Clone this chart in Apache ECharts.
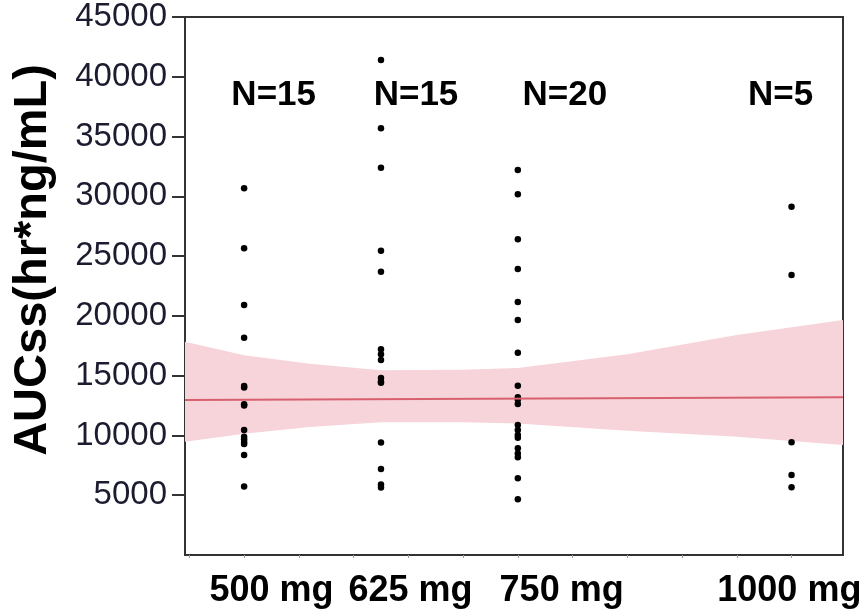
<!DOCTYPE html>
<html>
<head>
<meta charset="utf-8">
<script src="https://cdn.jsdelivr.net/npm/echarts@6/dist/echarts.min.js"></script>
<style>
  html, body { margin: 0; padding: 0; background: #fff; }
  #chart { width: 866px; height: 612px; }
</style>
</head>
<body>
<div id="chart"></div>
<script>
// dose groups (mg) and the AUCss values
var doses = [500, 625, 750, 1000];
var auc500 = [30670, 25650, 20910, 18180, 14140, 12600, 10450, 9900, 9680, 9450, 9280, 8370, 12500, 14000, 5720];
var auc625 = [41400, 35690, 32400, 25450, 23700, 17200, 16800, 16300, 14800, 14500, 14400, 9400, 7200, 5900, 5650];
var auc750 = [32200, 30170, 26400, 23920, 21160, 19650, 16920, 14160, 13190, 13000, 12630, 10870, 10450, 10030, 9800, 8920, 8500, 8170, 6420, 4660];
var auc1000 = [29130, 23420, 9430, 6690, 5660];

// fitted line and confidence band
var fitDose = [446, 1047];
var fitAuc = [12960, 13190];
var bandDose = [446, 500, 560, 625, 700, 750, 850, 950, 1047];
var bandUpper = [17840, 16700, 16000, 15450, 15500, 15650, 16800, 18400, 19650];
var bandLower = [9480, 10150, 10700, 11100, 11100, 11000, 10400, 9900, 9200];

// labels
var nLabels = ['N=15', 'N=15', 'N=20', 'N=5'];
var nLabelDose = [527, 657, 793, 990];
var nLabelY = 38470;
var xLabels = ['500 mg', '625 mg', '750 mg', '1000 mg'];
var xLabelAt = [525, 652, 790, 998];
var xTicks = [450, 500, 550, 600, 650, 700, 750, 800, 850, 900, 950, 1000];
var yTicks = [5000, 10000, 15000, 20000, 25000, 30000, 35000, 40000, 45000];

var groups = [auc500, auc625, auc750, auc1000];
var points = [];
groups.forEach(function (vals, i) {
    vals.forEach(function (v) { points.push([doses[i], v]); });
});

var bandData = bandDose.map(function (d, i) { return [d, bandLower[i], bandUpper[i]]; });

var chart = echarts.init(document.getElementById('chart'));
chart.setOption({
    animation: false,
    textStyle: { fontFamily: 'Liberation Sans, Arial, sans-serif' },
    grid: {
        left: 185, right: 23, top: 17, bottom: 57,
        show: true, borderColor: '#333', borderWidth: 2, backgroundColor: 'transparent'
    },
    xAxis: {
        type: 'value', min: 446, max: 1047,
        splitLine: { show: false },
        axisLine: { lineStyle: { color: '#333', width: 2 } },
        axisTick: { customValues: xTicks, length: 3, lineStyle: { color: '#999', width: 1 } },
        axisLabel: {
            customValues: xLabelAt,
            margin: 18,
            fontSize: 36, fontWeight: 'bold', color: '#000',
            formatter: function (v) { return xLabels[xLabelAt.indexOf(v)]; }
        }
    },
    yAxis: {
        type: 'value', min: 0, max: 45000, interval: 5000,
        splitLine: { show: false },
        axisLine: { lineStyle: { color: '#333', width: 2 } },
        axisTick: { customValues: yTicks, length: 13, lineStyle: { color: '#333', width: 2 } },
        axisLabel: {
            customValues: yTicks,
            margin: 18,
            fontSize: 33, color: '#1c1c30',
            formatter: function (v) { return String(v); }
        }
    },
    graphic: [{
        type: 'text', x: 33, y: 260, rotation: Math.PI / 2,
        style: {
            text: 'AUCss(hr*ng/mL)', fontSize: 47, fontWeight: 'bold',
            fontFamily: 'Liberation Sans, Arial, sans-serif',
            fill: '#000', align: 'center', verticalAlign: 'middle'
        }
    }],
    series: [
        {
            name: 'band', type: 'custom',
            data: bandData,
            renderItem: function (params, api) {
                if (params.dataIndex !== 0) return null;
                var top = [], bottom = [];
                for (var i = 0; i < bandDose.length; i++) {
                    top.push(api.coord([bandDose[i], bandUpper[i]]));
                    bottom.unshift(api.coord([bandDose[i], bandLower[i]]));
                }
                return {
                    type: 'polygon',
                    shape: { points: top.concat(bottom) },
                    style: { fill: '#f6d4da' }
                };
            }
        },
        {
            name: 'fit', type: 'line', symbol: 'none',
            data: fitDose.map(function (d, i) { return [d, fitAuc[i]]; }),
            lineStyle: { color: '#d8606e', width: 2 }
        },
        {
            name: 'AUCss', type: 'scatter', symbolSize: 6.5,
            itemStyle: { color: '#000', opacity: 1 },
            data: points
        },
        {
            name: 'N', type: 'scatter', symbolSize: 1,
            itemStyle: { color: '#fff', opacity: 0 },
            data: nLabelDose.map(function (d, i) { return { value: [d, nLabelY], label: { formatter: nLabels[i] } }; }),
            label: {
                show: true, position: 'inside', fontSize: 35, fontWeight: 'bold',
                color: '#000', opacity: 1, textBorderWidth: 0
            }
        }
    ]
});
</script>
</body>
</html>
